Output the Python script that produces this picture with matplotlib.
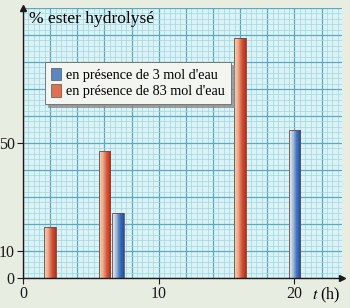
import numpy as np
import matplotlib
matplotlib.use('Agg')
import matplotlib.pyplot as plt
from matplotlib.colors import LinearSegmentedColormap
from matplotlib.patches import Patch

# ---- data ----
times_83 = [2, 6, 16]
values_83 = [19, 47, 89]
times_3 = [7, 20]
values_3 = [24, 55]
xticks = [0, 10, 20]
yticks = [0, 10, 50]
legend_labels = ["en présence de 3 mol d'eau", "en présence de 83 mol d'eau"]
ylabel_text = "% ester hydrolysé"

plt.rcParams['font.family'] = ['Liberation Serif', 'DejaVu Serif']
plt.rcParams['mathtext.fontset'] = 'stix'

W, H = 350, 308
fig = plt.figure(figsize=(W / 100, H / 100), dpi=100)
fig.patch.set_facecolor('#e8ede2')
ax = fig.add_axes([23 / W, 1 - 278 / H, 319 / W, 270 / H])
ax.set_facecolor('#dcf3f6')
XMAX, YMAX = 23.5, 100

# graph-paper grid
for x in np.arange(0, XMAX + 1e-6, 0.4):
    major = abs(x / 2 - round(x / 2)) < 1e-6
    ax.axvline(x, color='#5aa9c4' if major else '#9fd6e2',
               lw=0.9 if major else 0.5, zorder=0.5)
for y in np.arange(0, YMAX + 1e-6, 2):
    major = abs(y / 10 - round(y / 10)) < 1e-6
    ax.axhline(y, color='#5aa9c4' if major else '#9fd6e2',
               lw=0.9 if major else 0.5, zorder=0.5)

red_cmap = LinearSegmentedColormap.from_list(
    'r', ['#fad2b8', '#f2a988', '#d2553a', '#b0301c'])
blue_cmap = LinearSegmentedColormap.from_list(
    'b', ['#eef3fa', '#a4c0e2', '#3f6fb5', '#24529a'])
grad = np.linspace(0, 1, 64).reshape(1, -1)

width = 0.85
def gradient_bars(xs, vals, cmap):
    bars = ax.bar(xs, vals, width=width, color='none',
                  edgecolor='#6a4a40', linewidth=0.6, zorder=3)
    for b in bars:
        x0, y0 = b.get_x(), b.get_y()
        im = ax.imshow(grad, extent=[x0, x0 + b.get_width(), y0, y0 + b.get_height()],
                       cmap=cmap, aspect='auto', zorder=2.5, interpolation='bilinear')
        im.set_clip_path(b)
    return bars

gradient_bars(times_83, values_83, red_cmap)
gradient_bars(times_3, values_3, blue_cmap)

ax.set_xlim(0, XMAX)
ax.set_ylim(0, YMAX)

for s in ['top', 'right']:
    ax.spines[s].set_visible(False)
for s in ['left', 'bottom']:
    ax.spines[s].set_color('#1a1a1a')
    ax.spines[s].set_linewidth(1.0)
    ax.spines[s].set_zorder(4)

ax.set_xticks(xticks)
ax.set_yticks(yticks)
ax.tick_params(direction='out', length=4, width=0.8, labelsize=11.5,
               colors='#1a1a1a', pad=2)

# arrow heads
ax.plot(0, 1.0, marker='^', color='#1a1a1a', markersize=4, transform=ax.transAxes,
        clip_on=False, zorder=5)
ax.plot(1.0, 0, marker='>', color='#1a1a1a', markersize=4, transform=ax.transAxes,
        clip_on=False, zorder=5)

ax.text(0.45, 96.0, ylabel_text, fontsize=12.5, va='center', ha='left', zorder=6)
fig.text(312 / W, 1 - 295 / H, '$t$ (h)', fontsize=11.5, va='center', ha='left')

handles = [Patch(facecolor='#5a86c4', edgecolor='#555555', lw=0.5),
           Patch(facecolor='#e07050', edgecolor='#555555', lw=0.5)]
leg = ax.legend(handles, legend_labels, loc='upper left',
                bbox_to_anchor=(45 / W, 1 - 62 / H), bbox_transform=fig.transFigure,
                borderaxespad=0, fontsize=10.2, frameon=True, fancybox=False,
                shadow={'color': '#8a8a8a', 'alpha': 0.8}, handlelength=0.7,
                handleheight=1.0, handletextpad=0.4, labelspacing=0.15,
                borderpad=0.4)
leg.get_frame().set_facecolor('#f3f5f0')
leg.get_frame().set_edgecolor('#6a6a6a')
leg.get_frame().set_linewidth(0.6)
leg.get_frame().set_alpha(1)
leg.set_zorder(7)

fig.savefig('out.png', dpi=100, facecolor=fig.get_facecolor())
